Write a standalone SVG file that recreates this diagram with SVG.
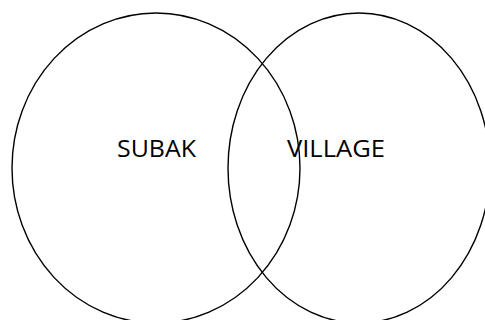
<svg xmlns="http://www.w3.org/2000/svg" width="485" height="320" viewBox="0 0 485 320">
<style>
.c{fill:none;stroke:#000;stroke-width:1.4}
.t{font-family:"Open Sans","Liberation Sans",sans-serif;font-size:24px;fill:#000}
</style>
<rect width="485" height="320" fill="#fff"/>
<g id="subak">
<ellipse class="c" cx="156" cy="168" rx="144" ry="155"/>
<text class="t" x="117" y="157" textLength="79" lengthAdjust="spacingAndGlyphs">SUBAK</text>
</g>
<g id="village">
<ellipse class="c" cx="359" cy="168" rx="131" ry="155"/>
<text class="t" x="287" y="157" textLength="98" lengthAdjust="spacingAndGlyphs">VILLAGE</text>
</g>
<g id="connectors"></g>
</svg>
